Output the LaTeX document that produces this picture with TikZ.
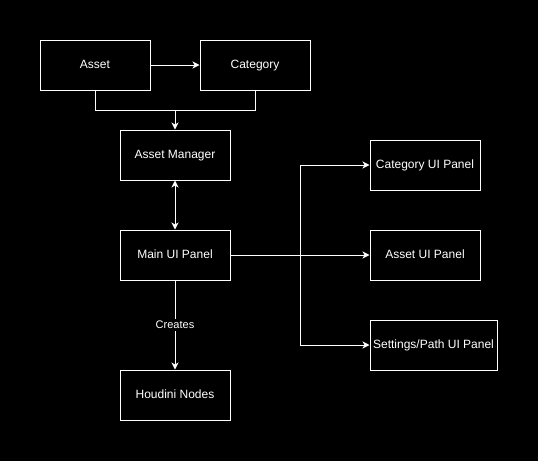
\documentclass[tikz,border=0pt]{standalone}
\usepackage{fontspec}
\setmainfont{Liberation Sans}
\usepackage{tikz}
\usetikzlibrary{arrows.meta, positioning}
\definecolor{panelwhite}{RGB}{255, 255, 255}

\begin{document}
\begin{tikzpicture}[
    x=1pt, y=-1pt,
    line width=1pt,
    every node/.style={font=\fontsize{12}{14}\selectfont, text=panelwhite},
    box/.style={draw=panelwhite, fill=black, minimum width=110pt, minimum height=50pt, inner sep=0pt, text height=8.5pt, text depth=2.5pt},
    link/.style={draw=panelwhite, -{Stealth[length=7pt, width=7pt, inset=2pt]}},
    both/.style={draw=panelwhite, {Stealth[length=7pt, width=7pt, inset=2pt]}-{Stealth[length=7pt, width=7pt, inset=2pt]}}
]
    \fill[black] (0,0) rectangle (538,461);

    \node[box] (asset) at (95,65) {Asset};
    \node[box] (category) at (255,65) {Category};
    \node[box] (manager) at (175,155) {Asset Manager};
    \node[box] (mainui) at (175,255) {Main UI Panel};
    \node[box] (houdini) at (175,395) {Houdini Nodes};
    \node[box] (catui) at (425,165) {Category UI Panel};
    \node[box] (assetui) at (425,255) {Asset UI Panel};
    \node[box, minimum width=127pt] (settingsui) at (433.5,345) {Settings/Path UI Panel};

    \coordinate (join) at (175,110.5);
    \coordinate (split) at (300,255);

    \draw[link] (asset) -- (category);
    \draw[panelwhite] (asset.south) |- (join);
    \draw[panelwhite] (category.south) |- (join);
    \draw[link] (join) -- (manager);
    \draw[both] (manager) -- (mainui);
    \draw[link] (mainui) -- (assetui);
    \draw[link] (split) |- (catui);
    \draw[link] (split) |- (settingsui);
    \draw[link] (mainui) -- node[fill=black, inner sep=2pt, font=\fontsize{11}{13}\selectfont] {Creates} (houdini);
\end{tikzpicture}
\end{document}
